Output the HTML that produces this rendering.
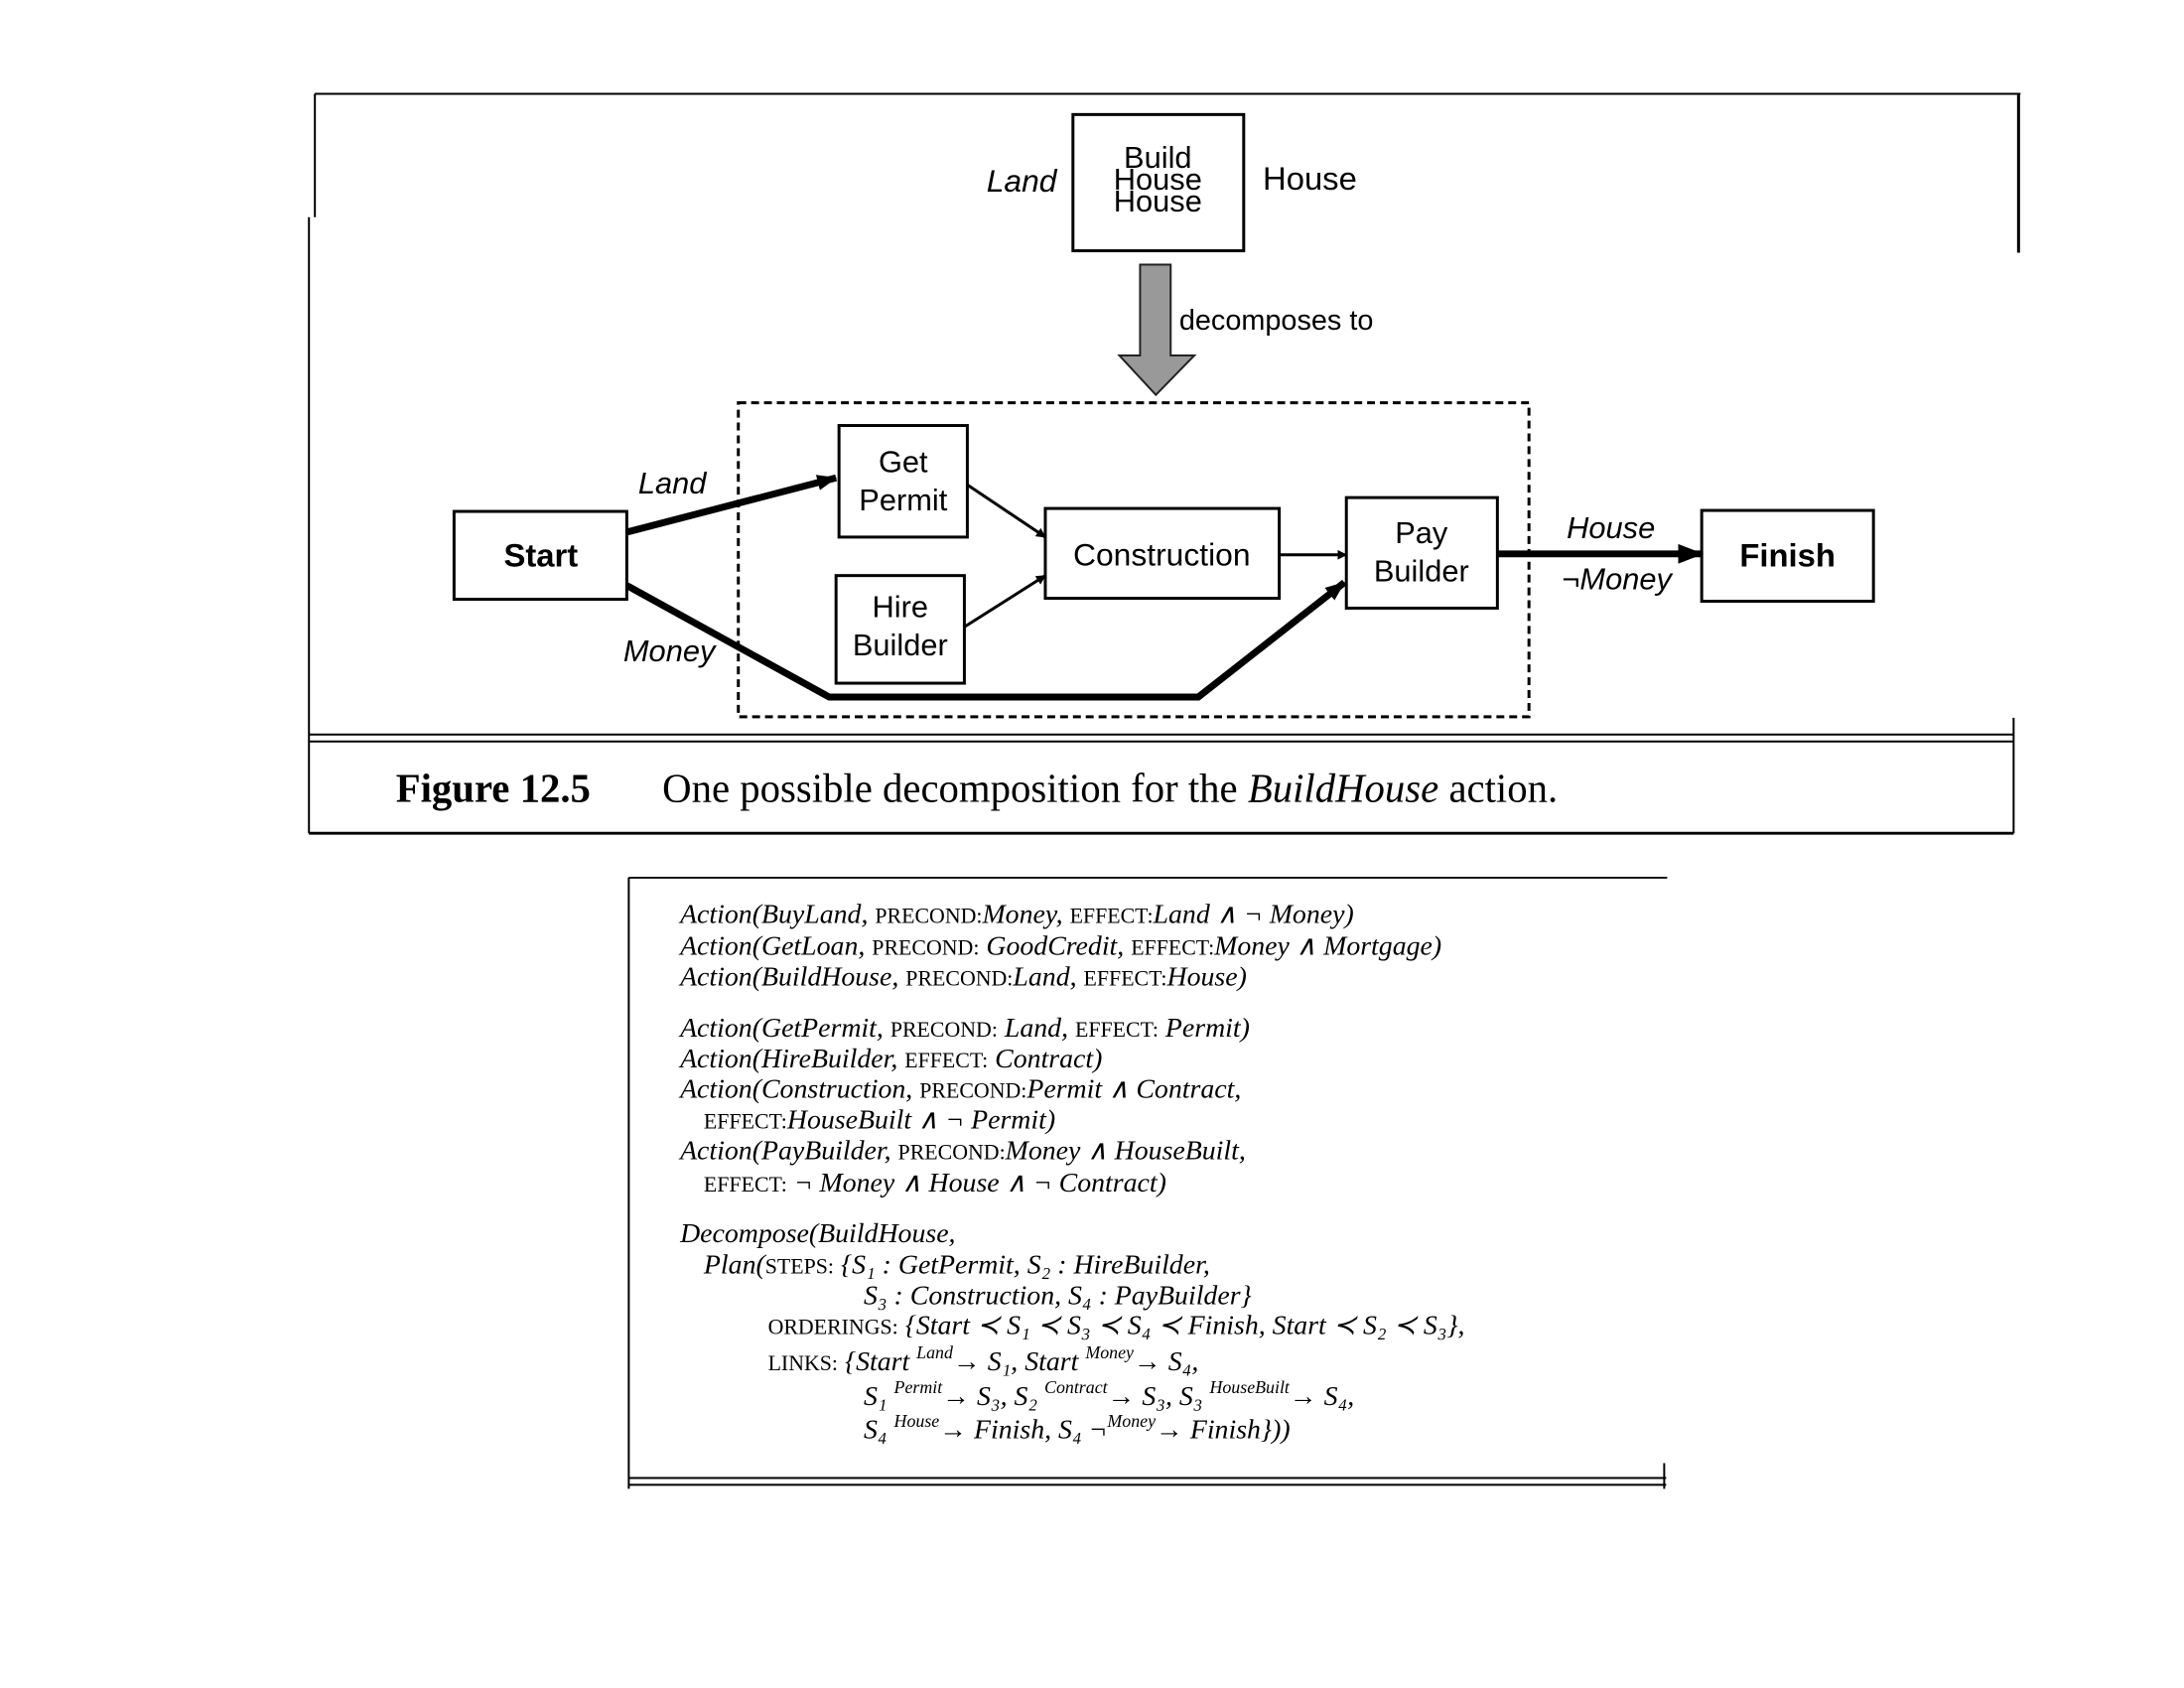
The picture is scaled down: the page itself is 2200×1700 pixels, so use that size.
<!DOCTYPE html>
<html><head><meta charset="utf-8"><style>
body{margin:0;background:#fff;}
svg{display:block}
.sf{font-family:"Liberation Sans",sans-serif}
.t{font-family:"Liberation Serif",serif;font-size:28px;font-style:italic}
.sc{font-style:normal;font-size:22px}
</style></head><body>
<svg width="2200" height="1700" viewBox="0 0 2200 1700" xmlns="http://www.w3.org/2000/svg">
<defs>
<marker id="ah" markerWidth="10" markerHeight="10" refX="9" refY="5" orient="auto" markerUnits="userSpaceOnUse" viewBox="0 0 10 10"><path d="M0,0 L10,5 L0,10 z" fill="#000"/></marker>
<marker id="ahb" markerWidth="26" markerHeight="20" refX="24" refY="10" orient="auto" markerUnits="userSpaceOnUse"><path d="M0,0 L26,10 L0,20 z" fill="#000"/></marker>
<marker id="ahm" markerWidth="20" markerHeight="16" refX="19" refY="8" orient="auto" markerUnits="userSpaceOnUse"><path d="M0,0 L20,8 L0,16 z" fill="#000"/></marker>
</defs>
<g transform="scale(0.9943)">
<g stroke="#000" fill="none">
<line x1="319" y1="95" x2="2047" y2="95" stroke-width="2"/>
<line x1="319" y1="95" x2="319" y2="220" stroke-width="2"/>
<line x1="313" y1="220" x2="313" y2="844" stroke-width="2"/>
<line x1="2045" y1="95" x2="2045" y2="256" stroke-width="3"/>
<line x1="313" y1="744" x2="2040" y2="744" stroke-width="2"/>
<line x1="313" y1="751" x2="2040" y2="751" stroke-width="2"/>
<line x1="2040" y1="727" x2="2040" y2="844" stroke-width="2"/>
<line x1="313" y1="844" x2="2040" y2="844" stroke-width="3"/>
<rect x="1087" y="116" width="173" height="138" stroke-width="3"/>
<rect x="748" y="408" width="801" height="318" stroke-width="3" stroke-dasharray="8,5"/>
<rect x="460" y="518" width="175" height="89" stroke-width="3"/>
<rect x="850" y="431" width="130" height="113" stroke-width="3"/>
<rect x="847" y="583" width="130" height="109" stroke-width="3"/>
<rect x="1059" y="515" width="237" height="91" stroke-width="3"/>
<rect x="1364" y="504" width="153" height="112" stroke-width="3"/>
<rect x="1724" y="517" width="174" height="92" stroke-width="3"/>
<line x1="635" y1="539" x2="847" y2="484" stroke-width="7" marker-end="url(#ahm)"/>
<polyline points="635,593 840,706 1214,706 1362,590" stroke-width="7" marker-end="url(#ahm)"/>
<line x1="980" y1="491" x2="1059" y2="544" stroke-width="3" marker-end="url(#ah)"/>
<line x1="977" y1="635" x2="1059" y2="583" stroke-width="3" marker-end="url(#ah)"/>
<line x1="1296" y1="562" x2="1364" y2="562" stroke-width="3" marker-end="url(#ah)"/>
<line x1="1517" y1="561" x2="1724" y2="561" stroke-width="7" marker-end="url(#ahb)"/>
<line x1="637" y1="889" x2="1689" y2="889" stroke-width="2"/>
<line x1="637" y1="889" x2="637" y2="1508" stroke-width="2"/>
<line x1="637" y1="1497" x2="1688" y2="1497" stroke-width="2"/>
<line x1="637" y1="1504" x2="1688" y2="1504" stroke-width="2"/>
<line x1="1686" y1="1482" x2="1686" y2="1508" stroke-width="2"/>
</g>
<path d="M1155,268 H1186 V360 H1210 L1171,400 L1134,360 H1155 Z" fill="#999" stroke="#222" stroke-width="2"/>
<g class="sf" font-size="31" text-anchor="middle">
<text x="1173" y="170">Build</text>
<text x="1173" y="192">House</text>
<text x="1173" y="214">House</text>
<text x="1035" y="194" font-style="italic" font-size="32">Land</text>
<text x="1327" y="192" font-size="33">House</text>
<text x="1293" y="334" font-size="29">decomposes to</text>
<text x="548" y="574" font-weight="bold" font-size="33">Start</text>
<text x="915" y="478">Get</text>
<text x="915" y="517">Permit</text>
<text x="912" y="625">Hire</text>
<text x="912" y="664">Builder</text>
<text x="1177" y="573" font-size="32">Construction</text>
<text x="1440" y="550">Pay</text>
<text x="1440" y="589">Builder</text>
<text x="1811" y="574" font-weight="bold" font-size="33">Finish</text>
<text x="681" y="500" font-style="italic">Land</text>
<text x="678" y="670" font-style="italic">Money</text>
<text x="1632" y="545" font-style="italic">House</text>
<text x="1638" y="597" font-style="italic">¬Money</text>
</g>
<text x="401" y="812" font-family="Liberation Serif,serif" font-size="41" font-weight="bold">Figure 12.5</text>
<text x="671" y="812" font-family="Liberation Serif,serif" font-size="41">One possible decomposition for the <tspan font-style="italic">BuildHouse</tspan> action.</text>
<g class="t">
<text x="689" y="935">Action(BuyLand, <tspan class="sc">PRECOND:</tspan>Money, <tspan class="sc">EFFECT:</tspan>Land ∧ ¬ Money)</text>
<text x="689" y="967">Action(GetLoan, <tspan class="sc">PRECOND:</tspan> GoodCredit, <tspan class="sc">EFFECT:</tspan>Money ∧ Mortgage)</text>
<text x="689" y="998">Action(BuildHouse, <tspan class="sc">PRECOND:</tspan>Land, <tspan class="sc">EFFECT:</tspan>House)</text>
<text x="689" y="1050">Action(GetPermit, <tspan class="sc">PRECOND:</tspan> Land, <tspan class="sc">EFFECT:</tspan> Permit)</text>
<text x="689" y="1081">Action(HireBuilder, <tspan class="sc">EFFECT:</tspan> Contract)</text>
<text x="689" y="1112">Action(Construction, <tspan class="sc">PRECOND:</tspan>Permit ∧ Contract,</text>
<text x="713" y="1143"><tspan class="sc">EFFECT:</tspan>HouseBuilt ∧ ¬ Permit)</text>
<text x="689" y="1174">Action(PayBuilder, <tspan class="sc">PRECOND:</tspan>Money ∧ HouseBuilt,</text>
<text x="713" y="1207"><tspan class="sc">EFFECT:</tspan> ¬ Money ∧ House ∧ ¬ Contract)</text>
<text x="689" y="1258">Decompose(BuildHouse,</text>
<text x="713" y="1290">Plan(<tspan class="sc">STEPS:</tspan> {S₁ : GetPermit, S₂ : HireBuilder,</text>
<text x="875" y="1321">S₃ : Construction, S₄ : PayBuilder}</text>
<text x="778" y="1351"><tspan class="sc">ORDERINGS:</tspan> {Start ≺ S₁ ≺ S₃ ≺ S₄ ≺ Finish,   Start ≺ S₂ ≺ S₃},</text>
<text x="778" y="1388"><tspan class="sc">LINKS:</tspan> {Start <tspan font-size="18" dy="-12">Land</tspan><tspan dy="12">→ S₁, Start </tspan><tspan font-size="18" dy="-12">Money</tspan><tspan dy="12">→ S₄,</tspan></text>
<text x="875" y="1423">S₁ <tspan font-size="18" dy="-12">Permit</tspan><tspan dy="12">→ S₃, S₂ </tspan><tspan font-size="18" dy="-12">Contract</tspan><tspan dy="12">→ S₃, S₃ </tspan><tspan font-size="18" dy="-12">HouseBuilt</tspan><tspan dy="12">→ S₄,</tspan></text>
<text x="875" y="1457">S₄ <tspan font-size="18" dy="-12">House</tspan><tspan dy="12">→ Finish, S₄ ¬</tspan><tspan font-size="18" dy="-12">Money</tspan><tspan dy="12">→ Finish}))</tspan></text>
</g>
</g>
</svg>
</body></html>
